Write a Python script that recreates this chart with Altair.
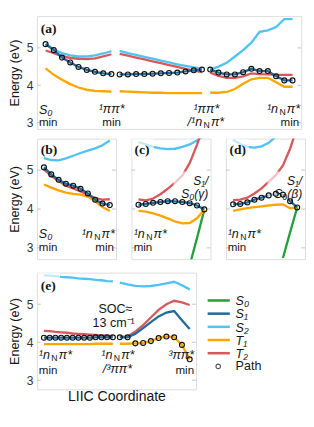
import altair as alt
import pandas as pd

FONT = "Liberation Sans"
STATES = ["S0", "S1", "S2", "T1", "T2"]
COLORS = ["#22a03a", "#1f6b9c", "#50c2f4", "#ffa500", "#d65a5c"]
LEG_LABELS = ["S₀", "S₁", "S₂", "T₁", "T₂", "Path"]
TICKS = [3, 4, 5]

# ---------------- panel (a) ----------------
A_X = list(range(31))
A_SEG = [0] * 9 + [1] * 11 + [2] * 11
A_S1 = [5.10, 4.94, 4.74, 4.61, 4.49, 4.41, 4.36, 4.32, 4.30,
        4.29, 4.29, 4.30, 4.30, 4.31, 4.32, 4.33, 4.34, 4.37, 4.40, 4.42,
        4.42, 4.34, 4.29, 4.29, 4.35, 4.44, 4.38, 4.38, 4.24, 4.13, 4.13]
A_S2 = [5.11, 4.95, 4.86, 4.80, 4.77, 4.77, 4.80, 4.85, 4.91,
        4.92, 4.86, 4.81, 4.76, 4.71, 4.66, 4.61, 4.56, 4.52, 4.48, 4.44,
        4.42, 4.50, 4.60, 4.77, 4.94, 5.14, 5.43, 5.47, 5.56, 5.77, 5.77]
A_T1 = [4.45, 4.28, 4.15, 4.03, 3.94, 3.88, 3.85, 3.84, 3.83,
        3.84, 3.83, 3.82, 3.81, 3.80, 3.80, 3.79, 3.79, 3.79, 3.79, 3.79,
        3.80, 3.80, 3.82, 3.90, 4.04, 4.16, 4.20, 4.20, 4.08, 3.96, 3.96]
A_T2 = [4.93, 4.86, 4.78, 4.73, 4.71, 4.70, 4.72, 4.77, 4.83,
        4.84, 4.79, 4.74, 4.69, 4.64, 4.59, 4.54, 4.49, 4.44, 4.39, 4.35,
        4.34, 4.25, 4.20, 4.20, 4.24, 4.32, 4.30, 4.29, 4.28, 4.28, 4.28]

# ---------------- panels (b), (c), (d) ----------------
BCD_X = list(range(10))
B_S1 = [5.07, 4.89, 4.75, 4.65, 4.60, 4.52, 4.40, 4.24, 4.14, 4.10]
B_S2 = [5.31, 5.26, 5.25, 5.30, 5.37, 5.44, 5.50, 5.56, 5.64, 5.76]
B_T1 = [4.63, 4.55, 4.48, 4.42, 4.39, 4.37, 4.32, 4.20, 4.05, 3.95]
B_T2 = [5.02, 4.85, 4.72, 4.60, 4.53, 4.45, 4.37, 4.28, 4.24, 4.25]

C_S1 = [4.11, 4.13, 4.16, 4.18, 4.20, 4.20, 4.18, 4.15, 4.09, 3.99]
C_S2 = [5.72, 5.66, 5.60, 5.56, 5.54, 5.55, 5.60, 5.66, 5.76, 5.90]
C_T1 = [3.95, 3.93, 3.89, 3.83, 3.76, 3.68, 3.63, 3.64, 3.76, 3.98]
C_T2 = [4.25, 4.22, 4.27, 4.38, 4.52, 4.68, 4.86, 5.18, 5.65, 6.20]
C_S0_X = [7, 8, 9]
C_S0 = [2.55, 3.25, 3.98]

D_S1 = [4.12, 4.13, 4.17, 4.24, 4.29, 4.35, 4.39, 4.37, 4.20, 4.04]
D_S2 = [5.78, 5.67, 5.60, 5.58, 5.61, 5.70, 5.86, 6.05, 6.30, 6.50]
D_T1 = [3.95, 3.99, 4.02, 4.05, 4.07, 4.09, 4.11, 4.12, 4.02, 4.04]
D_T2 = [4.23, 4.24, 4.29, 4.40, 4.53, 4.70, 4.87, 5.12, 5.55, 6.10]
D_S0_X = [7, 8, 9]
D_S0 = [2.74, 3.40, 4.04]

# ---------------- panel (e) ----------------
E_X = [0, 0.74, 1.48, 2.22, 2.96, 3.70, 4.44, 5.18, 5.92, 6.66, 7.40, 8.14, 8.88,
       9.78, 10.78, 11.78, 12.78, 13.78, 14.78, 15.78, 16.78, 17.78, 18.78]
E_SEG = [0] * 13 + [1] * 10
E_S1 = [4.12, 4.12, 4.12, 4.12, 4.12, 4.12, 4.12, 4.12, 4.12, 4.13, 4.13, 4.13, 4.13,
        4.13, 4.13, 4.22, 4.37, 4.53, 4.68, 4.78, 4.82, 4.58, 4.35]
E_S2 = [5.76, 5.75, 5.74, 5.72, 5.71, 5.70, 5.68, 5.67, 5.66, 5.64, 5.63, 5.61, 5.60,
        5.57, 5.52, 5.48, 5.47, 5.48, 5.51, 5.55, 5.59, 5.50, 5.39]
E_T1 = [3.95, 3.95, 3.95, 3.95, 3.95, 3.95, 3.95, 3.95, 3.95, 3.96, 3.96, 3.96, 3.96,
        3.96, 3.96, 3.97, 3.98, 4.03, 4.11, 4.15, 4.13, 3.93, 3.55]
E_T2 = [4.30, 4.29, 4.27, 4.26, 4.25, 4.23, 4.22, 4.21, 4.20, 4.19, 4.18, 4.17, 4.16,
        4.14, 4.15, 4.28, 4.45, 4.65, 4.85, 5.00, 5.09, 5.05, 4.98]
E_PATH = [4.12, 4.12, 4.12, 4.12, 4.12, 4.12, 4.12, 4.12, 4.12, 4.13, 4.13, 4.13, 4.13,
          4.13, 4.13, 3.97, 3.98, 4.03, 4.11, 4.15, 4.13, 3.93, 3.55]

color_scale = alt.Scale(domain=STATES, range=COLORS)
TXT = "#151515"

CW = {"¹": 0.333, "³": 0.333, "n": 0.556, "/": 0.278, "π": 0.6, "*": 0.389}


def long_df(xs, segs, series):
    rows = []
    for st, (sx, vals) in series.items():
        sg = segs if sx is xs else [0] * len(sx)
        for x, s, v in zip(sx, sg, vals):
            rows.append({"x": x, "seg": s, "state": st, "E": v})
    return pd.DataFrame(rows)


def T(x, E, s, align="left", size=12.5, style="normal", weight="normal", dx=0, dy=0, font=FONT):
    return dict(x=x, E=E, s=s, align=align, size=size, style=style, weight=weight,
                dx=dx, dy=dy, font=font)


def nlabel(x, E, anchor, prefix="", size=13, sub=9):
    p1 = prefix + "¹n"
    w1 = sum(CW[c] for c in p1) * size + 1.4
    w2 = 0.722 * sub + 1.2
    w3 = (CW["π"] + CW["*"]) * size
    total = w1 + w2 + w3
    start = {"left": 0, "right": -total, "center": -total / 2}[anchor]
    return [T(x, E, p1, size=size, style="italic", dx=start),
            T(x, E, "N", size=sub, dx=start + w1, dy=3),
            T(x, E, "π*", size=size, style="italic", dx=start + w1 + w2)]


def panel(lines_df, path_x, path_E, xdom, ydom, w, h, show_y, texts, boxes, xtitle=None):
    if xtitle:
        xaxis = alt.Axis(title=xtitle, labels=False, ticks=False, domain=False, grid=False,
                         titleFont=FONT, titleFontSize=14.5, titleFontWeight="normal",
                         titleColor=TXT, titlePadding=1)
        X = alt.X("x:Q", scale=alt.Scale(domain=xdom, nice=False, zero=False), axis=xaxis)
    else:
        X = alt.X("x:Q", scale=alt.Scale(domain=xdom, nice=False, zero=False), axis=None)
    if show_y:
        yaxis = alt.Axis(values=TICKS, title="Energy (eV)", ticks=False, domain=False, grid=False,
                         labelFont=FONT, labelFontSize=12.5, labelColor="#333", labelPadding=4,
                         titleFont=FONT, titleFontSize=13, titleFontWeight="normal",
                         titleColor=TXT, titlePadding=5)
        Y = alt.Y("E:Q", scale=alt.Scale(domain=ydom, nice=False, zero=False), axis=yaxis)
    else:
        Y = alt.Y("E:Q", scale=alt.Scale(domain=ydom, nice=False, zero=False), axis=None)

    kx = (xdom[1] - xdom[0]) / w
    ky = (ydom[1] - ydom[0]) / h
    box_rows = []
    for (bx, bE, align, wpx, up, down) in boxes:
        if align == "left":
            x1, x2 = bx - 3 * kx, bx + wpx * kx
        elif align == "right":
            x1, x2 = bx - wpx * kx, bx + 3 * kx
        else:
            x1, x2 = bx - wpx / 2 * kx, bx + wpx / 2 * kx
        box_rows.append({"x": x1, "x2": x2, "E": bE + up * ky, "E2": bE - down * ky})

    tick_df = pd.DataFrame({"E": TICKS})
    layers = [
        alt.Chart(tick_df).mark_rule(color="#c4c4c4", strokeWidth=1).encode(
            y=Y, x=alt.value(0), x2=alt.value(4)),
        alt.Chart(tick_df).mark_rule(color="#c4c4c4", strokeWidth=1).encode(
            y=Y, x=alt.value(w - 4), x2=alt.value(w)),
        alt.Chart(lines_df).mark_line(strokeWidth=2.4, clip=True).encode(
            x=X, y=Y,
            color=alt.Color("state:N", scale=color_scale, legend=None),
            detail="seg:N"),
    ]
    if box_rows:
        layers.append(
            alt.Chart(pd.DataFrame(box_rows)).mark_rect(color="white", opacity=0.65, clip=True).encode(
                x=X, x2="x2:Q", y=Y, y2="E2:Q"))
    layers.append(
        alt.Chart(pd.DataFrame({"x": path_x, "E": path_E})).mark_point(
            shape="circle", filled=False, color="#111", strokeWidth=1.2, size=26,
            opacity=1, clip=True).encode(x=X, y=Y))
    for t in texts:
        layers.append(
            alt.Chart(pd.DataFrame({"x": [t["x"]], "E": [t["E"]], "t": [t["s"]]})).mark_text(
                align=t["align"], baseline="middle", fontSize=t["size"], fontStyle=t["style"],
                fontWeight=t["weight"], font=t["font"], dx=t["dx"], dy=t["dy"], color=TXT
            ).encode(x=X, y=Y, text="t:N"))
    return alt.layer(*layers).properties(width=w, height=h)


BOLD = dict(size=14, weight="bold", font="Liberation Serif")

W_SMALL = 82
SP_H = 14
H_A, H_B, H_E = 117, 125, 121
W_A = 3 * W_SMALL + 2 * SP_H
W_E = 165

# panel (a)
a_df = long_df(A_X, A_SEG, {"S2": (A_X, A_S2), "T1": (A_X, A_T1), "T2": (A_X, A_T2), "S1": (A_X, A_S1)})
a_texts = [T(-0.58, 5.51, "(a)", **BOLD),
           T(-0.81, 3.34, "S₀", size=13, style="italic"),
           T(-0.81, 3.01, "min", size=12),
           T(8.02, 3.37, "¹ππ*", align="center", size=13, style="italic"),
           T(8.02, 3.01, "min", align="center", size=12),
           T(19.53, 3.37, "¹ππ*", align="center", size=13, style="italic"),
           T(30.81, 3.01, "min", align="right", size=12)]
a_texts += nlabel(19.42, 3.02, "center", prefix="/")
a_texts += nlabel(30.81, 3.37, "right")
a_boxes = [(-0.58, 5.51, "left", 20, 10, 9)]
pa = panel(a_df, A_X, A_S1, [-1.05, 31.05], [2.83, 5.85], W_A, H_A, True, a_texts, a_boxes)

# panel (b)
b_df = long_df(BCD_X, [0] * 10, {"S2": (BCD_X, B_S2), "T1": (BCD_X, B_T1), "T2": (BCD_X, B_T2), "S1": (BCD_X, B_S1)})
b_texts = [T(-0.43, 5.52, "(b)", **BOLD),
           T(-0.70, 3.35, "S₀", size=13, style="italic"),
           T(-0.70, 3.03, "min", size=12),
           T(9.57, 3.03, "min", align="right", size=12)]
b_texts += nlabel(9.57, 3.36, "right")
b_boxes = [(-0.43, 5.52, "left", 20, 9, 7)]
pb = panel(b_df, BCD_X, B_S1, [-0.96, 9.85], [2.71, 5.81], W_SMALL, H_B, True, b_texts, b_boxes)

# panel (c)
c_df = long_df(BCD_X, [0] * 10, {"S0": (C_S0_X, C_S0), "S2": (BCD_X, C_S2), "T1": (BCD_X, C_T1),
                                  "T2": (BCD_X, C_T2), "S1": (BCD_X, C_S1)})
c_texts = [T(-0.53, 5.52, "(c)", **BOLD),
           T(9.55, 4.71, "S₁/", align="right", size=12.5, style="italic"),
           T(9.55, 4.37, "S₀(γ)", align="right", size=12.5, style="italic"),
           T(-0.66, 3.03, "min", size=12)]
c_texts += nlabel(-0.66, 3.36, "left")
c_boxes = [(-0.53, 5.52, "left", 20, 12, 9), (9.55, 4.54, "right", 36, 17, 13)]
pc = panel(c_df, BCD_X, C_S1, [-0.96, 9.85], [2.71, 5.81], W_SMALL, H_B, False, c_texts, c_boxes)

# panel (d)
d_df = long_df(BCD_X, [0] * 10, {"S0": (D_S0_X, D_S0), "S2": (BCD_X, D_S2), "T1": (BCD_X, D_T1),
                                  "T2": (BCD_X, D_T2), "S1": (BCD_X, D_S1)})
d_texts = [T(-0.49, 5.52, "(d)", **BOLD),
           T(9.70, 4.71, "S₁/", align="right", size=12.5, style="italic"),
           T(9.70, 4.37, "S₀(β)", align="right", size=12.5, style="italic"),
           T(-0.76, 3.03, "min", size=12)]
d_texts += nlabel(-0.76, 3.36, "left")
d_boxes = [(-0.49, 5.52, "left", 20, 12, 9), (9.70, 4.54, "right", 36, 17, 13)]
pd_ = panel(d_df, BCD_X, D_S1, [-1.0, 10.1], [2.71, 5.81], W_SMALL, H_B, False, d_texts, d_boxes)

# panel (e)
e_df = long_df(E_X, E_SEG, {"S2": (E_X, E_S2), "T1": (E_X, E_T1), "T2": (E_X, E_T2), "S1": (E_X, E_S1)})
e_texts = [T(-0.41, 5.47, "(e)", **BOLD),
           T(9.22, 4.87, "SOC≈", align="center", size=13),
           T(8.98, 4.49, "13 cm⁻¹", align="center", size=13),
           T(-0.65, 3.27, "min", size=12),
           T(9.47, 3.28, "/³ππ*", align="center", size=13, style="italic"),
           T(19.35, 3.66, "³ππ*", align="right", size=13, style="italic"),
           T(19.35, 3.27, "min", align="right", size=12)]
e_texts += nlabel(-0.65, 3.65, "left")
e_texts += nlabel(9.47, 3.65, "center")
e_boxes = [(-0.41, 5.47, "left", 20, 15, 9)]
pe = panel(e_df, E_X, E_PATH, [-0.9, 19.6], [2.76, 5.83], W_E, H_E, True, e_texts, e_boxes,
           xtitle="LIIC Coordinate")

# legend panel
leg_y = alt.Y("lab:N", scale=alt.Scale(domain=LEG_LABELS, type="point", range=[22, 104]), axis=None)
leg_lines = pd.DataFrame({"lab": LEG_LABELS[:5], "state": STATES})
leg_path = pd.DataFrame({"lab": LEG_LABELS[5:]})
legend = alt.layer(
    alt.Chart(leg_lines).mark_rule(strokeWidth=2.6).encode(
        y=leg_y, x=alt.value(0), x2=alt.value(23),
        color=alt.Color("state:N", scale=color_scale, legend=None)),
    alt.Chart(leg_path).mark_point(shape="circle", filled=False, color="#111",
                                   strokeWidth=1.2, size=22).encode(y=leg_y, x=alt.value(11)),
    alt.Chart(leg_lines).mark_text(align="left", baseline="middle", font=FONT, fontSize=13,
                                   fontStyle="italic", color=TXT, dy=1).encode(
        y=leg_y, x=alt.value(29), text="lab:N"),
    alt.Chart(leg_path).mark_text(align="left", baseline="middle", font=FONT, fontSize=13,
                                  color=TXT).encode(y=leg_y, x=alt.value(29), text="lab:N"),
).properties(width=66, height=H_E, view=alt.ViewBackground(stroke="transparent"))

row2 = alt.hconcat(pb, pc, pd_, spacing=SP_H).resolve_scale(x="independent", y="independent")
row3 = alt.hconcat(pe, legend, spacing=9).resolve_scale(x="independent", y="independent")
lower = alt.vconcat(row2, row3, spacing=12).resolve_scale(x="independent", y="independent")

chart = alt.vconcat(pa, lower, spacing=7).resolve_scale(
    x="independent", y="independent"
).properties(padding=0).configure_view(stroke="#1a1a1a", strokeWidth=1.3).configure(
    font=FONT
)

chart.save("out.html", embed_options={"renderer": "svg", "actions": False})
